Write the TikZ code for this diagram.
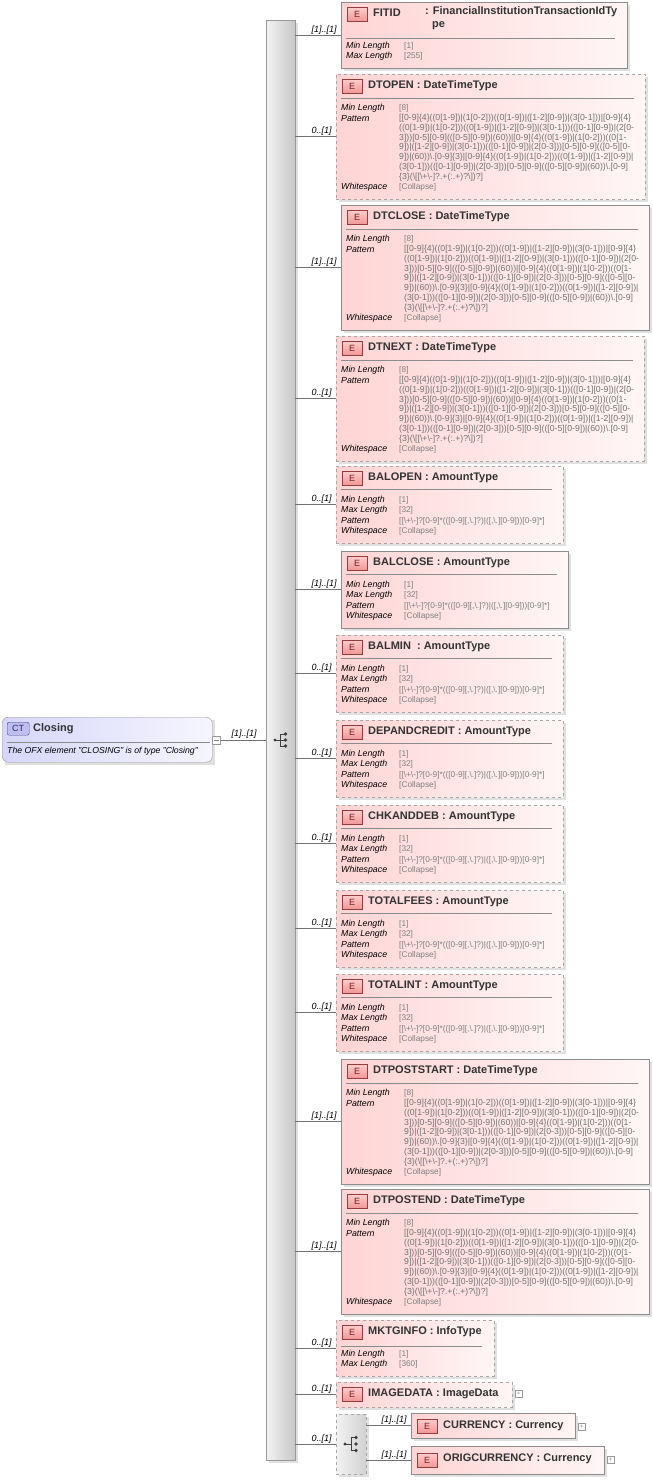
\documentclass[tikz,border=0pt]{standalone}
\usepackage{fontspec}
\setmainfont{Liberation Sans}
\begin{document}
\begin{tikzpicture}[x=1pt,y=-1pt,
 elbox/.style={draw=black!45,left color={rgb,255:red,255;green,212;blue,212},right color={rgb,255:red,255;green,246;blue,246},inner sep=0pt},
 dsh/.style={dashed,draw=black!35},
 ebadge/.style={draw={rgb,255:red,150;green,60;blue,60},top color={rgb,255:red,255;green,205;blue,205},bottom color={rgb,255:red,240;green,150;blue,150},minimum width=20pt,minimum height=14pt,inner sep=0pt,font=\fontsize{9}{10}\selectfont,text={rgb,255:red,120;green,30;blue,30}},
 ttl/.style={font=\fontsize{11}{13}\selectfont\bfseries,text=black!80,inner sep=0pt,anchor=west},
 sepline/.style={draw=black!45},
 conn/.style={draw=black!55,line width=0.6pt},
 mult/.style={font=\fontsize{9}{10}\selectfont\itshape,inner sep=1pt,anchor=south east},
 lab/.style={font=\fontsize{8.8}{10}\selectfont\itshape,inner sep=0pt,anchor=west},
 val/.style={font=\fontsize{8.3}{10}\selectfont,text=black!50,inner sep=0pt,anchor=west},
 pat/.style={font=\fontsize{8.7}{9.8}\selectfont,text=black!55,inner sep=0pt,anchor=north west,align=left},
 plusbox/.style={draw=black!40,fill=white,minimum size=7pt,inner sep=0pt,font=\fontsize{6}{6}\selectfont,text=black!50}]
\useasboundingbox (0,0) rectangle (653,1480);
\newcommand\elem[8]{%
 \fill[black!12] (#2+3,#3+3) rectangle ++(#4,#5);
 \node[elbox,#6,minimum width=#4pt,minimum height=#5pt,anchor=north west] (#1) at (#2,#3) {};
 \node[ebadge,anchor=north west] at (#2+6,#3+5) {E};
 \draw[conn] (seq.east |- #1.west) -- (#1.west) node[mult,xshift=-3pt,pos=1] {#8};
 \ifx&#7&\else\node[ttl] at (#2+32,#3+12) {#7};\fi}
\newcommand\sepl[3]{\draw[sepline] (#1+5,#2) -- (#1+#3,#2);}
\newcommand\drow[4]{\node[lab] at (#1+5,#2) {#3}; \node[val] at (#1+63,#2) {#4};}
\newcommand\dpat{[[0-9]\{4\}((0[1-9])|(1[0-2]))((0[1-9])|([1-2][0-9])|(3[0-1]))|[0-9]\{4\}\\((0[1-9])|(1[0-2]))((0[1-9])|([1-2][0-9])|(3[0-1]))(([0-1][0-9])|(2[0-\\3]))[0-5][0-9](([0-5][0-9])|(60))|[0-9]\{4\}((0[1-9])|(1[0-2]))((0[1-\\9])|([1-2][0-9])|(3[0-1]))(([0-1][0-9])|(2[0-3]))[0-5][0-9](([0-5][0-\\9])|(60))\textbackslash.[0-9]\{3\}|[0-9]\{4\}((0[1-9])|(1[0-2]))((0[1-9])|([1-2][0-9])|\\(3[0-1]))(([0-1][0-9])|(2[0-3]))[0-5][0-9](([0-5][0-9])|(60))\textbackslash.[0-9]\\\{3\}(\textbackslash[[\textbackslash+\textbackslash-]?.+(:.+)?\textbackslash])?]}
\newcommand\apat{[[\textbackslash+\textbackslash-]?[0-9]*(([0-9][,\textbackslash.]?)|([,\textbackslash.][0-9]))[0-9]*]}
\newcommand\dateel[7]{%
 \elem{#1}{#2}{#3}{#4}{125}{#5}{#6}{#7}
 \sepl{#2}{#3+24}{#4-11}
 \drow{#2}{#3+34}{Min Length}{[8]}
 \node[lab] at (#2+5,#3+44.5) {Pattern};
 \node[pat] at (#2+63,#3+40) {\dpat};
 \drow{#2}{#3+113}{Whitespace}{[Collapse]}}
\newcommand\amtel[6]{%
 \elem{#1}{#2}{#3}{227}{77}{#4}{#5}{#6}
 \sepl{#2}{#3+23}{216}
 \drow{#2}{#3+34}{Min Length}{[1]}
 \drow{#2}{#3+44.5}{Max Length}{[32]}
 \drow{#2}{#3+55}{Pattern}{\apat}
 \drow{#2}{#3+65.5}{Whitespace}{[Collapse]}}

\fill[black!12] (269,23) rectangle (298,1463);
\node[draw=black!40,left color=black!5,right color=black!22,minimum width=29pt,minimum height=1440pt,anchor=north west,inner sep=0pt] (seq) at (266,20) {};
\node[inner sep=0pt,minimum size=14pt] (seqicon) at (281,740) {};
\fill[black!75] (275,740) circle (1.6);
\draw[black!75,line width=0.7pt] (275,740) -- (280,740) (280,734) -- (280,746) (280,734) -- (285,734) (280,746) -- (285,746) (280,740) -- (285,740);
\fill[black!75] (285.5,734) circle (1.8) (285.5,740) circle (1.8) (285.5,746) circle (1.8);

\fill[black!12] (5,720) rectangle (215,765);
\node[draw=black!40,rounded corners=6pt,left color={rgb,255:red,214;green,214;blue,250},right color={rgb,255:red,246;green,246;blue,255},minimum width=210pt,minimum height=45pt,anchor=north west,inner sep=0pt] (closing) at (2,717) {};
\node[draw={rgb,255:red,70;green,70;blue,150},fill={rgb,255:red,190;green,190;blue,240},rounded corners=2pt,minimum width=22pt,minimum height=13pt,inner sep=0pt,anchor=north west,font=\fontsize{9}{10}\selectfont,text={rgb,255:red,40;green,40;blue,110}] at (7,722) {CT};
\node[ttl] at (33,728.5) {Closing};
\draw[sepline] (7,742) -- (210,742);
\node[font=\fontsize{8.7}{10}\selectfont\itshape,inner sep=0pt,anchor=west] at (7,751.5) {The OFX element "CLOSING" is of type "Closing"};
\node[draw=black!40,fill=white,minimum size=8pt,inner sep=0pt] (minus) at (216.5,740) {};
\draw[black!50] (214,740) -- (219,740);
\draw[conn] (minus.east) -- (seq.west |- minus.east) node[mult,pos=1,xshift=-8pt] {[1]..[1]};

\elem{fitid}{341}{2}{286}{66}{}{}{[1]..[1]}
\node[ttl] at (373,13) {FITID};
\node[ttl,anchor=north west,align=left] at (425,6.5) {: FinancialInstitutionTransactionIdTy\\\hspace*{7pt}pe};
\sepl{341}{38}{274}
\drow{341}{46}{Min Length}{[1]}
\drow{341}{56.5}{Max Length}{[255]}

\dateel{dtopen}{336}{74}{309}{dsh}{DTOPEN\ : DateTimeType}{0..[1]}
\dateel{dtclose}{341}{205}{308}{}{DTCLOSE\ : DateTimeType}{[1]..[1]}
\dateel{dtnext}{336}{336}{308}{dsh}{DTNEXT\ : DateTimeType}{0..[1]}
\amtel{balopen}{336}{466}{dsh}{BALOPEN\ : AmountType}{0..[1]}
\amtel{balclose}{341}{551}{}{BALCLOSE\ : AmountType}{[1]..[1]}
\amtel{balmin}{336}{635}{dsh}{BALMIN\ \ : AmountType}{0..[1]}
\amtel{depandcredit}{336}{720}{dsh}{DEPANDCREDIT\ : AmountType}{0..[1]}
\amtel{chkanddeb}{336}{805}{dsh}{CHKANDDEB\ : AmountType}{0..[1]}
\amtel{totalfees}{336}{890}{dsh}{TOTALFEES\ : AmountType}{0..[1]}
\amtel{totalint}{336}{974}{dsh}{TOTALINT\ : AmountType}{0..[1]}
\dateel{dtpoststart}{341}{1059}{308}{}{DTPOSTSTART\ : DateTimeType}{[1]..[1]}
\dateel{dtpostend}{341}{1189}{308}{}{DTPOSTEND\ : DateTimeType}{[1]..[1]}

\elem{mktginfo}{336}{1320}{158}{56}{dsh}{MKTGINFO\ : InfoType}{0..[1]}
\sepl{336}{1346}{146}
\drow{336}{1354}{Min Length}{[1]}
\drow{336}{1364}{Max Length}{[360]}

\elem{imagedata}{336}{1382}{176}{25}{dsh}{IMAGEDATA\ : ImageData}{0..[1]}
\node[plusbox] at (518.5,1394) {+};

\fill[black!12] (339,1417) rectangle (369,1477);
\node[draw=black!35,dashed,left color=black!5,right color=black!18,minimum width=30pt,minimum height=60pt,anchor=north west,inner sep=0pt] (choice) at (336,1414) {};
\draw[conn] (seq.east |- choice.west) -- (choice.west) node[mult,pos=1,xshift=-3pt] {0..[1]};
\fill[black!75] (345,1444) circle (1.6);
\draw[black!75,line width=0.7pt] (345,1444) -- (351,1444) (351,1437) -- (351,1450) (351,1437) -- (355,1437) (351,1450) -- (355,1450);
\fill[black!75] (356,1437.5) circle (1.8) (356,1444) circle (1.8) (356,1450.5) circle (1.8);

\fill[black!12] (414,1416) rectangle (578,1441);
\node[elbox,minimum width=164pt,minimum height=25pt,anchor=north west] (currency) at (411,1413) {};
\node[ebadge,anchor=north west] at (417,1419) {E};
\node[ttl] at (443,1425.5) {CURRENCY\ : Currency};
\node[plusbox] at (581.5,1427) {+};
\draw[conn] (choice.east |- currency.west) -- (currency.west) node[mult,pos=1,xshift=-3pt] {[1]..[1]};

\fill[black!12] (414,1449) rectangle (607,1477);
\node[elbox,minimum width=193pt,minimum height=28pt,anchor=north west] (origcurrency) at (411,1446) {};
\node[ebadge,anchor=north west] at (417,1453) {E};
\node[ttl] at (443,1458.5) {ORIGCURRENCY\ : Currency};
\node[plusbox] at (610.5,1460) {+};
\draw[conn] (choice.east |- origcurrency.west) -- (origcurrency.west) node[mult,pos=1,xshift=-3pt] {[1]..[1]};
\end{tikzpicture}
\end{document}
